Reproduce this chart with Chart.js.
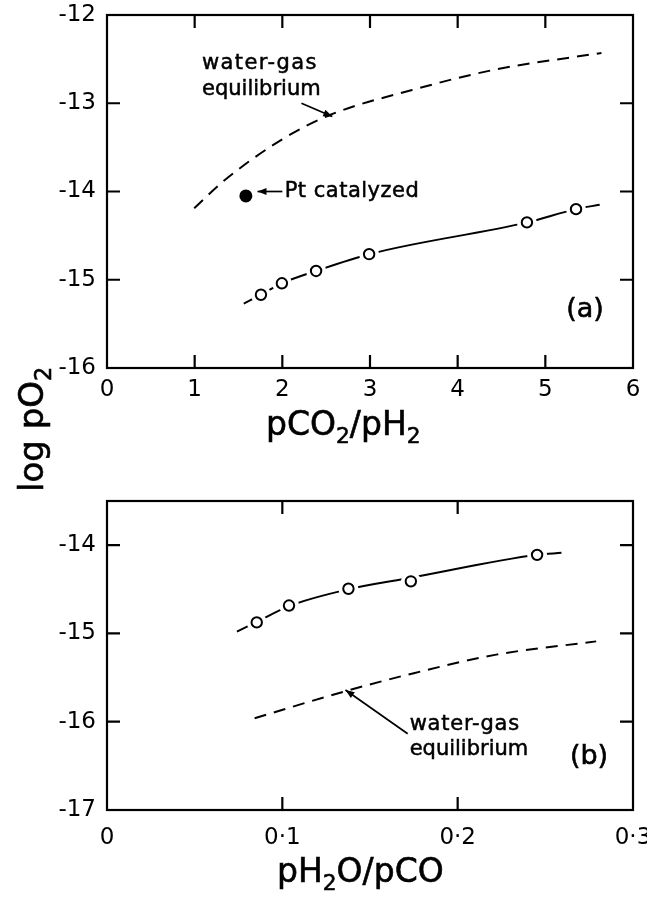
<!DOCTYPE html>
<html><head><meta charset="utf-8">
<script src="https://cdn.jsdelivr.net/npm/chart.js@4.4.0/dist/chart.umd.min.js"></script>
<style>
html,body{margin:0;padding:0;background:#fff;width:647px;height:901px;overflow:hidden}
#wa{position:absolute;left:0;top:0;width:647px;height:500px}
#wb{position:absolute;left:0;top:470px;width:647px;height:431px}
</style></head><body>
<div id="wa"><canvas id="ca"></canvas></div>
<div id="wb"><canvas id="cb"></canvas></div>
<script>
// ---------- data: panel (a) ----------
const xTicksA = [0, 1, 2, 3, 4, 5, 6];
const xTickLabelsA = ['0', '1', '2', '3', '4', '5', '6'];
const yTicksA = [-16, -15, -14, -13, -12];
const yTickLabelsA = ['-16', '-15', '-14', '-13', '-12'];
const obsA_x = [1.756, 1.995, 2.385, 2.99, 4.79, 5.35];
const obsA_y = [-15.17, -15.04, -14.90, -14.71, -14.35, -14.20];
const fitA_x = [1.56, 1.756, 1.995, 2.385, 2.99, 4.79, 5.35, 5.62];
const fitA_y = [-15.27, -15.17, -15.04, -14.90, -14.71, -14.35, -14.20, -14.15];
const ptA_x = [1.584];
const ptA_y = [-14.05];
const eqA_x = [0.995, 1.32, 1.98, 2.55, 3.48, 4.42, 5.64];
const eqA_y = [-14.19, -13.89, -13.42, -13.13, -12.85, -12.62, -12.43];

// ---------- data: panel (b) ----------
const xTicksB = [0, 0.1, 0.2, 0.3];
const xTickLabelsB = ['0', '0·1', '0·2', '0·3'];
const yTicksB = [-17, -16, -15, -14];
const yTickLabelsB = ['-17', '-16', '-15', '-14'];
const obsB_x = [0.0854, 0.1038, 0.1377, 0.1733, 0.2453];
const obsB_y = [-14.875, -14.684, -14.494, -14.41, -14.11];
const fitB_x = [0.0741, 0.0854, 0.1038, 0.1377, 0.1733, 0.2453, 0.2592];
const fitB_y = [-14.98, -14.87, -14.69, -14.50, -14.37, -14.11, -14.087];
const eqB_x = [0.0842, 0.135, 0.175, 0.222, 0.279];
const eqB_y = [-15.96, -15.66, -15.45, -15.24, -15.09];

// ---------- annotations (data coordinates) ----------
const notesA = [
  {text: 'water-gas', x: 1.084, y: -12.612, sp: 1.4},
  {text: 'equilibrium', x: 1.084, y: -12.907, sp: 0},
  {text: 'Pt catalyzed', x: 2.027, y: -14.057, sp: 0.5}
];
const arrowsA = [
  {x1: 2.218, y1: -13.0, x2: 2.57, y2: -13.15},
  {x1: 2.0, y1: -14.0, x2: 1.717, y2: -14.0}
];
const panelA = {text: '(a)', x: 5.452, y: -15.343};
const notesB = [
  {text: 'water-gas', x: 0.1726, y: -16.094, sp: 0.8},
  {text: 'equilibrium', x: 0.1726, y: -16.377, sp: 0}
];
const arrowsB = [
  {x1: 0.1715, y1: -16.137, x2: 0.136, y2: -15.64}
];
const panelB = {text: '(b)', x: 0.2749, y: -16.405};

const FONT = "'DejaVu Sans', sans-serif";
const pts = (xs, ys) => xs.map((x, i) => ({x: x, y: ys[i]}));

function xScale(ticks, labels, H, pad) {
  return {
    type: 'linear', position: 'bottom', min: ticks[0], max: ticks[ticks.length - 1],
    grid: {display: false}, border: {display: false},
    afterBuildTicks: s => { s.ticks = ticks.map(v => ({value: v})); },
    ticks: {callback: (v, i) => labels[i], font: {family: FONT, size: 23}, color: '#000',
            padding: pad, maxRotation: 0, minRotation: 0, autoSkip: false},
    afterFit: s => { s.height = H; s.paddingLeft = 0; s.paddingRight = 0; }
  };
}
function yScale(ticks, labels, min, max) {
  return {
    type: 'linear', position: 'left', min: min, max: max,
    grid: {display: false}, border: {display: false},
    afterBuildTicks: s => { s.ticks = ticks.map(v => ({value: v})); },
    ticks: {callback: (v, i) => labels[i], font: {family: FONT, size: 23}, color: '#000',
            padding: 3, autoSkip: false},
    afterFit: s => { s.width = 107; s.paddingTop = 0; s.paddingBottom = 0; }
  };
}

function txt(ctx, t, x, y) {
  ctx.fillText(t, x, y);
  ctx.strokeText(t, x, y);
}

function drawRich(ctx, segs, x, y, size) {
  let cx = x;
  segs.forEach(sg => {
    const fs = sg.sub ? size * 0.66 : size;
    ctx.font = fs + 'px ' + FONT;
    txt(ctx, sg.t, cx, y + (sg.sub ? size * 0.24 : 0));
    cx += ctx.measureText(sg.t).width;
  });
}

function arrow(ctx, x1, y1, x2, y2) {
  ctx.beginPath(); ctx.moveTo(x1, y1); ctx.lineTo(x2, y2); ctx.stroke();
  const a = Math.atan2(y2 - y1, x2 - x1), L = 9, W = 3.5;
  ctx.beginPath();
  ctx.moveTo(x2, y2);
  ctx.lineTo(x2 - L * Math.cos(a) + W * Math.sin(a), y2 - L * Math.sin(a) - W * Math.cos(a));
  ctx.lineTo(x2 - L * Math.cos(a) - W * Math.sin(a), y2 - L * Math.sin(a) + W * Math.cos(a));
  ctx.closePath(); ctx.fill();
}

// white halo behind open markers so the fitted line shows a gap around each one
const haloPlugin = {
  id: 'halo',
  beforeDatasetDraw(chart, args) {
    const ds = chart.data.datasets[args.index];
    if (!ds.openMarker) return;
    const ctx = chart.ctx;
    ctx.save();
    ctx.fillStyle = '#fff';
    args.meta.data.forEach(el => {
      ctx.beginPath(); ctx.arc(el.x, el.y, 10, 0, Math.PI * 2); ctx.fill();
    });
    ctx.restore();
  }
};

function decor(opts) {
  return {
    id: 'decor',
    afterDatasetsDraw(chart) {
      const ctx = chart.ctx, a = chart.chartArea, xs = chart.scales.x, ys = chart.scales.y;
      ctx.save();
      ctx.strokeStyle = '#000'; ctx.fillStyle = '#000';
      ctx.lineWidth = 2.2;
      ctx.strokeRect(a.left, a.top, a.right - a.left, a.bottom - a.top);
      const T = 13;
      ctx.beginPath();
      opts.xMarks.forEach(v => {
        const p = xs.getPixelForValue(v);
        ctx.moveTo(p, a.bottom); ctx.lineTo(p, a.bottom - T);
        ctx.moveTo(p, a.top); ctx.lineTo(p, a.top + T);
      });
      opts.yMarks.forEach(v => {
        const p = ys.getPixelForValue(v);
        ctx.moveTo(a.left, p); ctx.lineTo(a.left + T, p);
        ctx.moveTo(a.right, p); ctx.lineTo(a.right - T, p);
      });
      ctx.stroke();
      // notes
      ctx.lineWidth = 0.5;
      ctx.font = '21px ' + FONT;
      ctx.textAlign = 'left'; ctx.textBaseline = 'alphabetic';
      opts.notes.forEach(n => {
        ctx.letterSpacing = n.sp + 'px';
        txt(ctx, n.text, xs.getPixelForValue(n.x), ys.getPixelForValue(n.y));
      });
      ctx.letterSpacing = '0px';
      ctx.lineWidth = 1.7;
      opts.arrows.forEach(r => arrow(ctx, xs.getPixelForValue(r.x1), ys.getPixelForValue(r.y1),
                                          xs.getPixelForValue(r.x2), ys.getPixelForValue(r.y2)));
      ctx.lineWidth = 0.6;
      ctx.font = '27px ' + FONT;
      ctx.textAlign = 'center'; ctx.textBaseline = 'middle';
      txt(ctx, opts.panel.text, xs.getPixelForValue(opts.panel.x), ys.getPixelForValue(opts.panel.y));
      // axis titles
      ctx.textAlign = 'left'; ctx.textBaseline = 'alphabetic';
      drawRich(ctx, opts.xTitle, opts.xTitlePos[0], opts.xTitlePos[1], 33);
      if (opts.yTitle) {
        ctx.save();
        ctx.translate(opts.yTitlePos[0], opts.yTitlePos[1]);
        ctx.rotate(-Math.PI / 2);
        drawRich(ctx, opts.yTitle, 0, 0, 34);
        ctx.restore();
      }
      ctx.restore();
    }
  };
}

function datasets(obsX, obsY, fitX, fitY, eqX, eqY, extra) {
  const ds = [
    {data: pts(obsX, obsY), openMarker: true, pointRadius: 5.2, pointBorderWidth: 2,
     pointBackgroundColor: '#fff', pointBorderColor: '#000', showLine: false, order: 0},
    {data: pts(fitX, fitY), showLine: true, pointRadius: 0, borderColor: '#000', borderWidth: 2,
     cubicInterpolationMode: 'monotone', order: 2},
    {data: pts(eqX, eqY), showLine: true, pointRadius: 0, borderColor: '#000', borderWidth: 2,
     borderDash: [12, 8], cubicInterpolationMode: 'monotone', order: 3}
  ];
  if (extra) ds.push(extra);
  return ds;
}

const common = {
  responsive: true, maintainAspectRatio: false, animation: false, events: [],
  plugins: {legend: {display: false}, tooltip: {enabled: false}}
};

new Chart(document.getElementById('ca'), {
  type: 'scatter',
  data: {datasets: datasets(obsA_x, obsA_y, fitA_x, fitA_y, eqA_x, eqA_y,
    {data: pts(ptA_x, ptA_y), pointRadius: 6.5, pointBackgroundColor: '#000', pointBorderColor: '#000',
     pointBorderWidth: 0, showLine: false, order: 0})},
  options: Object.assign({}, common, {
    layout: {padding: {left: 0, top: 15, right: 14, bottom: 0}},
    scales: {x: xScale(xTicksA, xTickLabelsA, 132, 0), y: yScale(yTicksA, yTickLabelsA, -16, -12)}
  }),
  plugins: [haloPlugin, decor({
    xMarks: [1, 2, 3, 4, 5], yMarks: [-15, -14, -13],
    notes: notesA, arrows: arrowsA, panel: panelA,
    xTitle: [{t: 'pCO'}, {t: '2', sub: 1}, {t: '/pH'}, {t: '2', sub: 1}], xTitlePos: [266, 435],
    yTitle: [{t: 'log pO'}, {t: '2', sub: 1}], yTitlePos: [43, 492]
  })]
});

new Chart(document.getElementById('cb'), {
  type: 'scatter',
  data: {datasets: datasets(obsB_x, obsB_y, fitB_x, fitB_y, eqB_x, eqB_y)},
  options: Object.assign({}, common, {
    layout: {padding: {left: 0, top: 31, right: 14, bottom: 0}},
    scales: {x: xScale(xTicksB, xTickLabelsB, 91, 6), y: yScale(yTicksB, yTickLabelsB, -17, -13.5)}
  }),
  plugins: [haloPlugin, decor({
    xMarks: [0.1, 0.2], yMarks: [-16, -15, -14],
    notes: notesB, arrows: arrowsB, panel: panelB,
    xTitle: [{t: 'pH'}, {t: '2', sub: 1}, {t: 'O/pCO'}], xTitlePos: [277, 412]
  })]
});
</script>
</body></html>
